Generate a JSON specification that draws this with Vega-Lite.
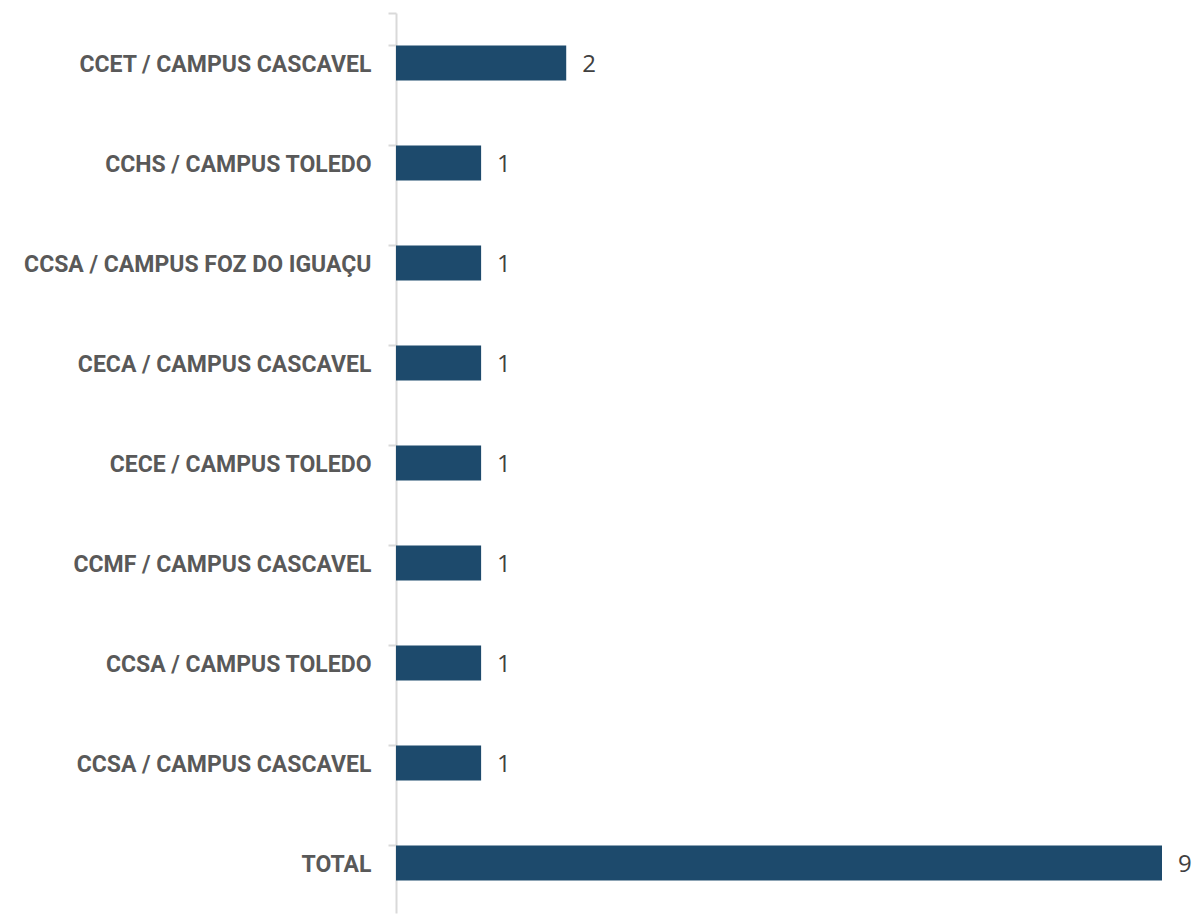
{
  "$schema": "https://vega.github.io/schema/vega-lite/v6.json",
  "autosize": {"type": "none"},
  "padding": {"left": 396, "top": 13, "right": 36, "bottom": 1},
  "width": 766,
  "height": 900,
  "background": "white",
  "config": {"view": {"stroke": null}},
  "data": {
    "values": [
      {"categoria": "CCET / CAMPUS CASCAVEL", "valor": 2},
      {"categoria": "CCHS / CAMPUS TOLEDO", "valor": 1},
      {"categoria": "CCSA / CAMPUS FOZ DO IGUAÇU", "valor": 1},
      {"categoria": "CECA / CAMPUS CASCAVEL", "valor": 1},
      {"categoria": "CECE / CAMPUS TOLEDO", "valor": 1},
      {"categoria": "CCMF / CAMPUS CASCAVEL", "valor": 1},
      {"categoria": "CCSA / CAMPUS TOLEDO", "valor": 1},
      {"categoria": "CCSA / CAMPUS CASCAVEL", "valor": 1},
      {"categoria": "TOTAL", "valor": 9}
    ]
  },
  "encoding": {
    "y": {
      "field": "categoria",
      "type": "nominal",
      "sort": null,
      "scale": {"paddingInner": 0.65, "paddingOuter": 0.325},
      "axis": {
        "title": null,
        "domainColor": "#d9d9d9",
        "domainWidth": 2,
        "tickColor": "#d9d9d9",
        "tickWidth": 2,
        "tickSize": 8,
        "bandPosition": 0,
        "tickExtra": true,
        "labelPadding": 17,
        "labelOffset": 2,
        "labelFont": "Roboto",
        "labelFontWeight": "bold",
        "labelFontSize": 23,
        "labelColor": "#595959",
        "labelLimit": 400
      }
    },
    "x": {
      "field": "valor",
      "type": "quantitative",
      "scale": {"domain": [0, 9], "nice": false},
      "axis": null
    }
  },
  "layer": [
    {"mark": {"type": "bar", "color": "#1d4a6c"}},
    {
      "mark": {"type": "text", "align": "left", "baseline": "middle", "dx": 16, "dy": 2, "font": "Open Sans", "fontSize": 24, "color": "#404040"},
      "encoding": {"text": {"field": "valor", "type": "quantitative"}}
    }
  ]
}
